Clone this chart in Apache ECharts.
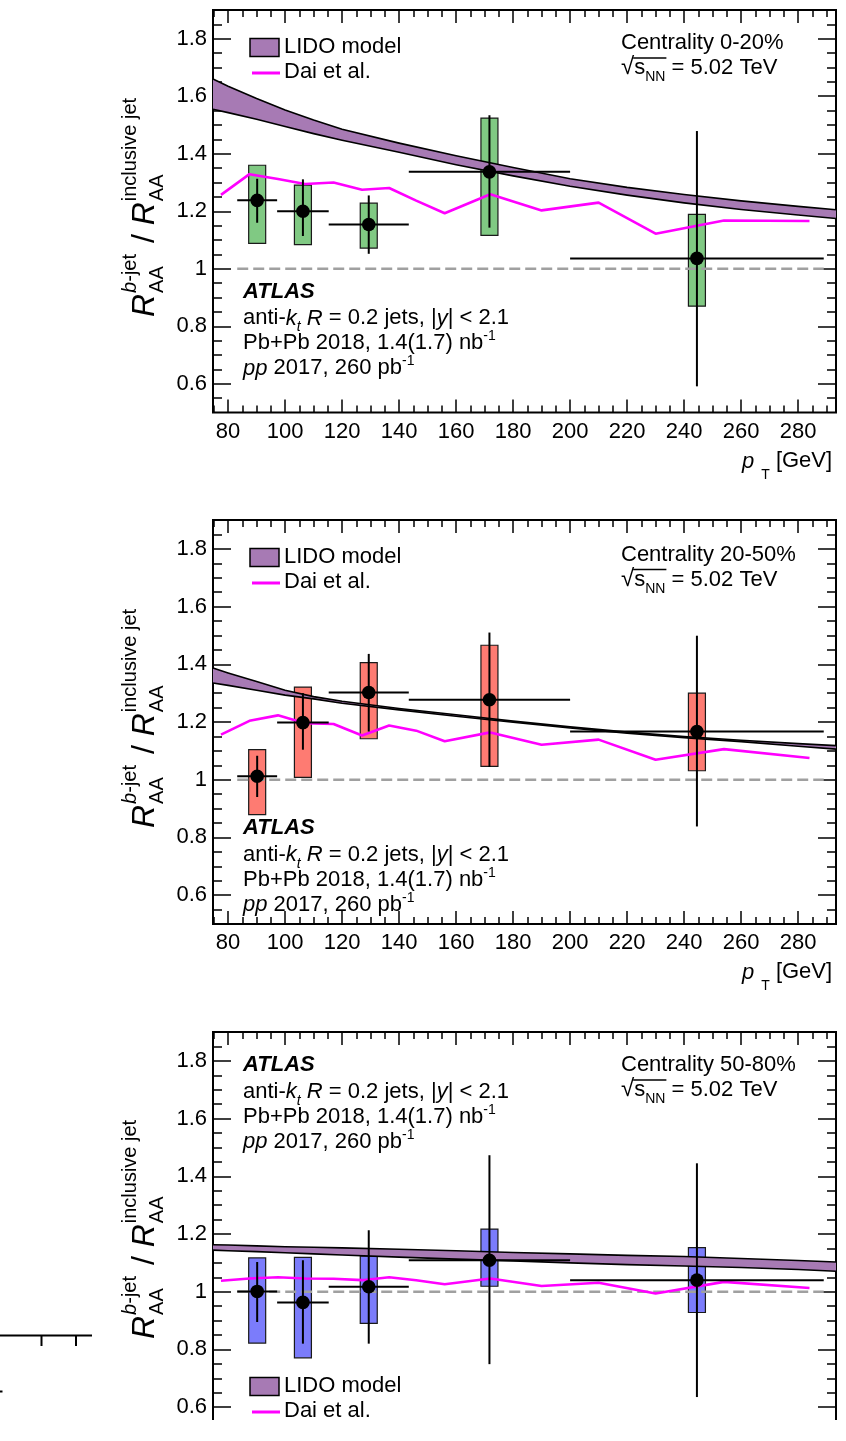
<!DOCTYPE html>
<html><head><meta charset="utf-8">
<script src="https://cdn.jsdelivr.net/npm/echarts@6/dist/echarts.min.js"></script>
<style>html,body{margin:0;padding:0;background:#fff}
#wrap{width:846px;height:1420px;overflow:hidden}
#chart{width:846px;height:1441px}</style>
</head><body><div id="wrap"><div id="chart"></div></div>
<script>
// ---------------- data ----------------
const binLo = [83.2, 97.2, 115.3, 143.4, 200];
const binHi = [97.2, 115.3, 143.4, 200, 289];
const binCenter = [90.2, 106.25, 129.35, 171.7, 244.5];

// Centrality 0-20%
const val1 = [1.238, 1.200, 1.154, 1.337, 1.036];
const statLo1 = [1.160, 1.114, 1.052, 1.143, 0.591];
const statHi1 = [1.313, 1.311, 1.255, 1.534, 1.479];
const sysLo1 = [1.088, 1.084, 1.072, 1.116, 0.870];
const sysHi1 = [1.360, 1.291, 1.228, 1.524, 1.189];
// Centrality 20-50%
const val2 = [1.012, 1.198, 1.302, 1.277, 1.167];
const statLo2 = [0.940, 1.104, 1.167, 1.044, 0.838];
const statHi2 = [1.083, 1.300, 1.436, 1.510, 1.499];
const sysLo2 = [0.879, 1.008, 1.142, 1.046, 1.031];
const sysHi2 = [1.104, 1.321, 1.406, 1.466, 1.300];
// Centrality 50-80%
const val3 = [1.001, 0.963, 1.017, 1.109, 1.040];
const statLo3 = [0.895, 0.820, 0.820, 0.749, 0.635];
const statHi3 = [1.103, 1.109, 1.213, 1.473, 1.445];
const sysLo3 = [0.822, 0.771, 0.890, 1.019, 0.928];
const sysHi3 = [1.117, 1.119, 1.123, 1.217, 1.153];

// Dai et al. curves
const daiX = [77.5, 87.5, 97.5, 107, 117, 127, 136.5, 146, 156, 172, 190, 210, 230, 254, 284];
const dai1 = [1.257, 1.329, 1.312, 1.295, 1.300, 1.275, 1.281, 1.237, 1.193, 1.259, 1.203, 1.230, 1.122, 1.168, 1.166];
const dai2 = [1.156, 1.204, 1.223, 1.196, 1.193, 1.153, 1.188, 1.170, 1.133, 1.164, 1.121, 1.139, 1.069, 1.106, 1.075];
const dai3 = [1.038, 1.046, 1.050, 1.046, 1.045, 1.040, 1.050, 1.040, 1.026, 1.046, 1.020, 1.031, 0.994, 1.034, 1.013];

// LIDO model bands
const lidoX = [74.7, 80, 90, 100, 110, 120, 140, 160, 180, 200, 220, 240, 260, 280, 293.3];
const lidoUp1 = [1.660, 1.635, 1.592, 1.552, 1.517, 1.485, 1.437, 1.393, 1.352, 1.313, 1.283, 1.258, 1.236, 1.217, 1.205];
const lidoLo1 = [1.555, 1.543, 1.520, 1.495, 1.470, 1.447, 1.405, 1.362, 1.323, 1.287, 1.256, 1.229, 1.206, 1.187, 1.175];
const lidoUp2 = [1.387, 1.370, 1.340, 1.310, 1.288, 1.272, 1.247, 1.225, 1.203, 1.183, 1.165, 1.150, 1.137, 1.125, 1.118];
const lidoLo2 = [1.335, 1.327, 1.310, 1.293, 1.280, 1.265, 1.242, 1.220, 1.199, 1.179, 1.161, 1.146, 1.132, 1.116, 1.106];
const lidoUp3 = [1.163, 1.162, 1.159, 1.156, 1.154, 1.152, 1.147, 1.142, 1.136, 1.131, 1.126, 1.122, 1.115, 1.108, 1.103];
const lidoLo3 = [1.144, 1.142, 1.139, 1.135, 1.131, 1.127, 1.120, 1.113, 1.107, 1.100, 1.094, 1.089, 1.084, 1.077, 1.071];

// axes / ticks
const xMin = 74.7, xMax = 293.3, yMin = 0.5, yMax = 1.9;
const xMajor = [80, 100, 120, 140, 160, 180, 200, 220, 240, 260, 280];
const xMinor = [75, 85, 90, 95, 105, 110, 115, 125, 130, 135, 145, 150, 155, 165, 170, 175, 185, 190, 195, 205, 210, 215, 225, 230, 235, 245, 250, 255, 265, 270, 275, 285, 290];
const yMajor = [0.6, 0.8, 1, 1.2, 1.4, 1.6, 1.8];
const yMinor = [0.55, 0.65, 0.7, 0.75, 0.85, 0.9, 0.95, 1.05, 1.1, 1.15, 1.25, 1.3, 1.35, 1.45, 1.5, 1.55, 1.65, 1.7, 1.75, 1.85];
const centralities = ['Centrality 0-20%', 'Centrality 20-50%', 'Centrality 50-80%'];

// ---------------- layout ----------------
const FONT = '"Liberation Sans", Arial, Helvetica, sans-serif';
const grids = [
  {left: 213, top: 10, width: 623, height: 402.5},
  {left: 213, top: 520, width: 623, height: 404},
  {left: 213, top: 1032, width: 623, height: 404}
];
const colors = ['#80c983', '#fe7b72', '#7b7cfb'];
const PURPLE = '#a77ab4';

const mctx = document.createElement('canvas').getContext('2d');
function fontStr(size, it, bold) { return (it ? 'italic ' : '') + (bold ? 'bold ' : '') + size + 'px ' + FONT; }
function tw(t, size, it, bold) { mctx.font = fontStr(size, it, bold); return mctx.measureText(t).width; }
// pieces laid out along a baseline; dy = baseline shift; adv overrides advance
function run(x, baseY, pieces, rotation) {
  let u = 0; const children = [];
  pieces.forEach(p => {
    const s = p.s || 22;
    const w = tw(p.t, s, p.it, p.b);
    children.push({type: 'text', x: u + (p.dx || 0), y: (p.dy || 0) - 0.3465 * s,
      style: {text: p.t, font: fontStr(s, p.it, p.b), fill: '#000', align: 'left', verticalAlign: 'middle', textAlign: 'left', textVerticalAlign: 'middle'}});
    u += (p.adv !== undefined ? p.adv : w) + (p.dx || 0);
  });
  return {type: 'group', x: x, y: baseY, rotation: rotation || 0, children: children, silent: true};
}

function yTitle(baseX, startY) {
  const supW1 = tw('b', 20, true) + tw('-jet', 20);
  const supW2 = tw('inclusive jet', 20);
  return run(baseX, startY, [
    {t: 'R', s: 32, it: true},
    {t: 'AA', s: 20, dy: 8, adv: 0, dx: 1},
    {t: 'b', s: 20, it: true, dy: -19},
    {t: '-jet', s: 20, dy: -19, adv: supW1 - tw('b', 20, true) + 2},
    {t: ' / ', s: 32},
    {t: 'R', s: 32, it: true},
    {t: 'AA', s: 20, dy: 8, adv: 0, dx: 1},
    {t: 'inclusive jet', s: 20, dy: -19, adv: supW2}
  ], Math.PI / 2);
}

function legend(boxY) {
  const els = [];
  els.push({type: 'rect', shape: {x: 250, y: boxY, width: 29, height: 18}, style: {fill: PURPLE, stroke: '#000', lineWidth: 1.5}, silent: true});
  els.push(run(284, boxY + 16.5, [{t: 'LIDO model'}]));
  els.push({type: 'line', shape: {x1: 252, y1: boxY + 34.5, x2: 280, y2: boxY + 34.5}, style: {stroke: '#ff00ff', lineWidth: 3}, silent: true});
  els.push(run(284, boxY + 41.5, [{t: 'Dai et al.'}]));
  return els;
}
function atlasBlock(y0) {
  return [
    run(243, y0, [{t: 'ATLAS', it: true, b: true}]),
    run(243, y0 + 26.5, [{t: 'anti-'}, {t: 'k', it: true}, {t: 't', s: 14, it: true, dy: 6}, {t: ' '}, {t: 'R', it: true}, {t: ' = 0.2 jets, |'}, {t: 'y', it: true}, {t: '| < 2.1'}]),
    run(243, y0 + 51.5, [{t: 'Pb+Pb 2018, 1.4(1.7) nb'}, {t: '-1', s: 14, dy: -10}]),
    run(243, y0 + 76.5, [{t: 'pp', it: true}, {t: ' 2017, 260 pb'}, {t: '-1', s: 14, dy: -10}])
  ];
}
function energyBlock(cent, y0) {
  const els = [run(621, y0, [{t: cent}])];
  els.push(run(621, y0 + 25, [{t: '\u221A', s: 24}, {t: 's'}, {t: 'NN', s: 14, dy: 6}, {t: ' = 5.02 TeV'}]));
  const x0 = 621 + tw('\u221A', 24) - 1;
  const x1 = x0 + tw('s', 22) + tw('NN', 14) + 2;
  els.push({type: 'line', shape: {x1: x0, y1: y0 + 7, x2: x1, y2: y0 + 7}, style: {stroke: '#000', lineWidth: 1.3}, silent: true});
  return els;
}
function ptTitle(y0) {
  return run(742, y0, [{t: 'p', it: true}, {t: 'T', s: 14, dy: 11, dx: 7}, {t: ' [GeV]', dx: 0}]);
}

// ---------------- axes ----------------
const xAxes = [], yAxes = [];
const tickStyle = {color: '#000', width: 1.5};
const labelStyle = {color: '#000', fontSize: 22, fontFamily: FONT};
grids.forEach((g, gi) => {
  const cx = {type: 'value', gridIndex: gi, min: xMin, max: xMax, splitLine: {show: false}, axisLine: {show: false}};
  xAxes.push(Object.assign({}, cx, {position: 'bottom', axisTick: {inside: true, length: 13, customValues: xMajor, lineStyle: tickStyle},
    axisLabel: {customValues: xMajor, margin: 8, ...labelStyle}}));
  xAxes.push(Object.assign({}, cx, {position: 'bottom', axisTick: {inside: true, length: 7, customValues: xMinor, lineStyle: tickStyle}, axisLabel: {show: false}}));
  xAxes.push(Object.assign({}, cx, {position: 'top', axisTick: {inside: true, length: 13, customValues: xMajor, lineStyle: tickStyle}, axisLabel: {show: false}}));
  xAxes.push(Object.assign({}, cx, {position: 'top', axisTick: {inside: true, length: 7, customValues: xMinor, lineStyle: tickStyle}, axisLabel: {show: false}}));
  const cy = {type: 'value', gridIndex: gi, min: yMin, max: yMax, splitLine: {show: false}, axisLine: {show: false}};
  yAxes.push(Object.assign({}, cy, {position: 'left', axisTick: {inside: true, length: 18, customValues: yMajor, lineStyle: tickStyle},
    axisLabel: {customValues: yMajor, margin: 6, ...labelStyle}}));
  yAxes.push(Object.assign({}, cy, {position: 'left', axisTick: {inside: true, length: 9, customValues: yMinor, lineStyle: tickStyle}, axisLabel: {show: false}}));
  yAxes.push(Object.assign({}, cy, {position: 'right', axisTick: {inside: true, length: 18, customValues: yMajor, lineStyle: tickStyle}, axisLabel: {show: false}}));
  yAxes.push(Object.assign({}, cy, {position: 'right', axisTick: {inside: true, length: 9, customValues: yMinor, lineStyle: tickStyle}, axisLabel: {show: false}}));
});

// ---------------- series ----------------
const panels = [
  {val: val1, sLo: statLo1, sHi: statHi1, yLo: sysLo1, yHi: sysHi1, dai: dai1, up: lidoUp1, lo: lidoLo1},
  {val: val2, sLo: statLo2, sHi: statHi2, yLo: sysLo2, yHi: sysHi2, dai: dai2, up: lidoUp2, lo: lidoLo2},
  {val: val3, sLo: statLo3, sHi: statHi3, yLo: sysLo3, yHi: sysHi3, dai: dai3, up: lidoUp3, lo: lidoLo3}
];
const series = [];
panels.forEach((p, gi) => {
  const xi = gi * 4, yi = gi * 4;
  // systematic boxes
  series.push({type: 'custom', xAxisIndex: xi, yAxisIndex: yi, z: 2, silent: true,
    data: binCenter.map((c, i) => [c, p.yLo[i], p.yHi[i]]),
    renderItem: (params, api) => {
      const a = api.coord([api.value(0), api.value(2)]);
      const b = api.coord([api.value(0), api.value(1)]);
      const w = 17;
      return {type: 'rect', shape: {x: a[0] - w / 2, y: a[1], width: w, height: b[1] - a[1]},
        style: {fill: colors[gi], stroke: '#1a1a1a', lineWidth: 1.2}};
    }});
  // LIDO band
  series.push({type: 'custom', xAxisIndex: xi, yAxisIndex: yi, z: 3, silent: true,
    data: [[lidoX[0], p.lo[0], p.up[0]]],
    renderItem: (params, api) => {
      const upPts = lidoX.map((x, i) => api.coord([x, p.up[i]]));
      const loPts = lidoX.map((x, i) => api.coord([x, p.lo[i]]));
      return {type: 'group', children: [
        {type: 'polygon', shape: {points: upPts.concat(loPts.slice().reverse())}, style: {fill: PURPLE}},
        {type: 'polyline', shape: {points: upPts}, style: {stroke: '#000', lineWidth: 1.6, fill: null}},
        {type: 'polyline', shape: {points: loPts}, style: {stroke: '#000', lineWidth: 1.6, fill: null}}
      ]};
    }});
  // unity dashed line
  series.push({type: 'line', xAxisIndex: xi, yAxisIndex: yi, z: 4, silent: true, showSymbol: false, symbol: 'none',
    data: [[binLo[0], 1], [binHi[binHi.length - 1], 1]],
    lineStyle: {color: '#a0a0a0', width: 2.6, type: [11, 5]}});
  // Dai et al.
  series.push({type: 'line', xAxisIndex: xi, yAxisIndex: yi, z: 5, silent: true, showSymbol: false, symbol: 'none',
    data: daiX.map((x, i) => [x, p.dai[i]]),
    lineStyle: {color: '#ff00ff', width: 2.6}});
  // data points with stat errors and bin widths
  series.push({type: 'custom', xAxisIndex: xi, yAxisIndex: yi, z: 6, silent: true,
    data: binCenter.map((c, i) => [c, p.val[i], p.sLo[i], p.sHi[i], binLo[i], binHi[i]]),
    renderItem: (params, api) => {
      const c = api.coord([api.value(0), api.value(1)]);
      const t = api.coord([api.value(0), api.value(3)]);
      const b = api.coord([api.value(0), api.value(2)]);
      const l = api.coord([api.value(4), api.value(1)]);
      const r = api.coord([api.value(5), api.value(1)]);
      return {type: 'group', children: [
        {type: 'line', shape: {x1: t[0], y1: t[1], x2: b[0], y2: b[1]}, style: {stroke: '#000', lineWidth: 2}},
        {type: 'line', shape: {x1: l[0], y1: l[1], x2: r[0], y2: r[1]}, style: {stroke: '#000', lineWidth: 2}},
        {type: 'circle', shape: {cx: c[0], cy: c[1], r: 6.8}, style: {fill: '#000'}}
      ]};
    }});
});

// ---------------- texts ----------------
let graphics = [];
graphics = graphics.concat(legend(38.5));
graphics = graphics.concat(legend(548.5));
graphics = graphics.concat(legend(1377.5));
graphics = graphics.concat(atlasBlock(299.5));
graphics = graphics.concat(atlasBlock(836));
graphics = graphics.concat(atlasBlock(1073));
graphics = graphics.concat(energyBlock(centralities[0], 51));
graphics = graphics.concat(energyBlock(centralities[1], 562.5));
graphics = graphics.concat(energyBlock(centralities[2], 1073));
graphics.push(ptTitle(469));
graphics.push(ptTitle(980));
graphics.push(yTitle(156, 317));
graphics.push(yTitle(156, 828));
graphics.push(yTitle(156, 1339));
// fragment of neighbouring figure at the left edge
graphics.push({type: 'line', shape: {x1: 0, y1: 1335.5, x2: 92, y2: 1335.5}, style: {stroke: '#000', lineWidth: 2}, silent: true});
graphics.push({type: 'line', shape: {x1: 41.5, y1: 1335.5, x2: 41.5, y2: 1346}, style: {stroke: '#000', lineWidth: 2}, silent: true});
graphics.push({type: 'line', shape: {x1: 76, y1: 1335.5, x2: 76, y2: 1346}, style: {stroke: '#000', lineWidth: 2}, silent: true});
graphics.push({type: 'line', shape: {x1: 0, y1: 1391.5, x2: 2.5, y2: 1391.5}, style: {stroke: '#000', lineWidth: 2}, silent: true});

const chart = echarts.init(document.getElementById('chart'), null, {renderer: 'canvas'});
chart.setOption({
  animation: false,
  backgroundColor: '#fff',
  grid: grids.map(g => Object.assign({show: true, borderColor: '#000', borderWidth: 2, backgroundColor: 'transparent', containLabel: false, outerBoundsMode: 'none'}, g)),
  xAxis: xAxes,
  yAxis: yAxes,
  series: series,
  graphic: {elements: graphics}
});
</script></body></html>
